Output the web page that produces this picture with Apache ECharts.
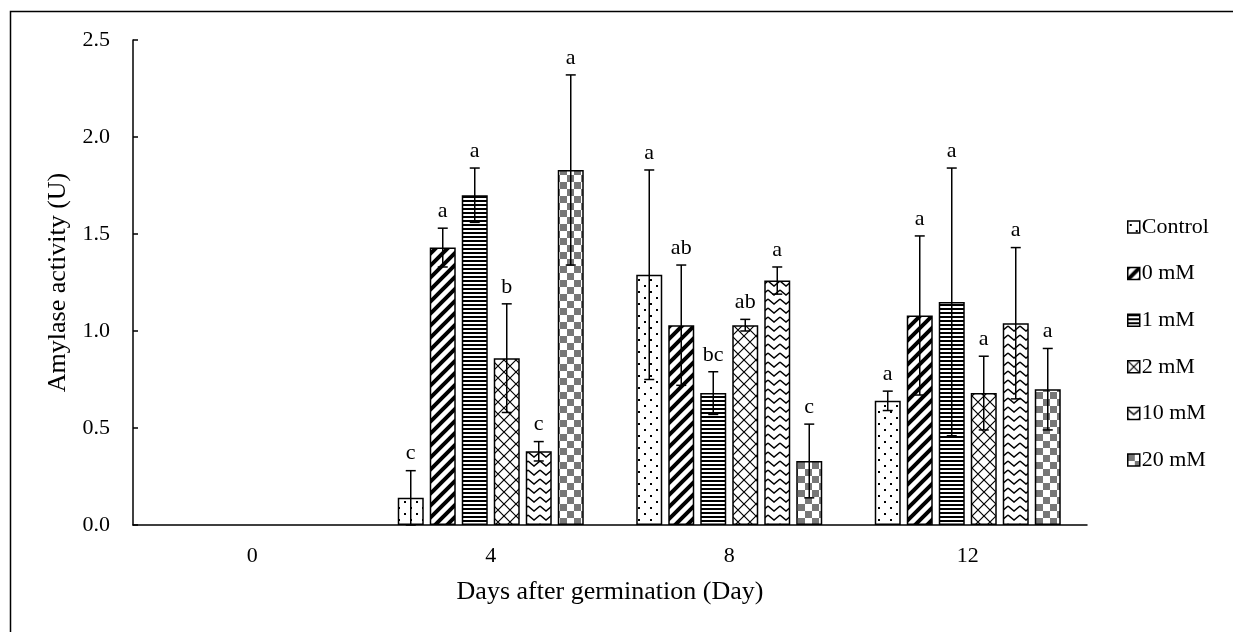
<!DOCTYPE html>
<html>
<head>
<meta charset="utf-8">
<script src="https://cdn.jsdelivr.net/npm/echarts@6/dist/echarts.min.js"></script>
<style>html,body{margin:0;padding:0;background:#fff}#main{width:1233px;height:632px}</style>
</head>
<body>
<div id="main"></div>
<script>
// ---- data ----
const categories = ['0', '4', '8', '12'];
const seriesNames = ['Control', '0 mM', '1 mM', '2 mM', '10 mM', '20 mM'];
const controlVals = [0, 0.14, 1.29, 0.64];
const mM0Vals     = [0, 1.43, 1.03, 1.08];
const mM1Vals     = [0, 1.70, 0.68, 1.15];
const mM2Vals     = [0, 0.86, 1.03, 0.68];
const mM10Vals    = [0, 0.38, 1.26, 1.04];
const mM20Vals    = [0, 1.83, 0.33, 0.70];
const controlErr = [0, 0.14, 0.54, 0.05];
const mM0Err     = [0, 0.10, 0.31, 0.41];
const mM1Err     = [0, 0.14, 0.11, 0.69];
const mM2Err     = [0, 0.28, 0.03, 0.19];
const mM10Err    = [0, 0.05, 0.07, 0.39];
const mM20Err    = [0, 0.49, 0.19, 0.21];
const controlLetters = ['', 'c', 'a', 'a'];
const mM0Letters     = ['', 'a', 'ab', 'a'];
const mM1Letters     = ['', 'a', 'bc', 'a'];
const mM2Letters     = ['', 'b', 'ab', 'a'];
const mM10Letters    = ['', 'c', 'a', 'a'];
const mM20Letters    = ['', 'a', 'c', 'a'];
const yTicks = [0, 0.5, 1.0, 1.5, 2.0, 2.5];

const allVals = [controlVals, mM0Vals, mM1Vals, mM2Vals, mM10Vals, mM20Vals];
const allErr = [controlErr, mM0Err, mM1Err, mM2Err, mM10Err, mM20Err];
const allLetters = [controlLetters, mM0Letters, mM1Letters, mM2Letters, mM10Letters, mM20Letters];

// ---- patterns ----
function makePattern(w, h, draw) {
  const c = document.createElement('canvas');
  c.width = w; c.height = h;
  const ctx = c.getContext('2d');
  ctx.fillStyle = '#fff';
  ctx.fillRect(0, 0, w, h);
  draw(ctx, w, h);
  return { image: c, repeat: 'repeat' };
}
const patterns = [
  makePattern(12, 12, (ctx) => { ctx.fillStyle = '#000'; ctx.fillRect(2, 3, 2, 2); ctx.fillRect(8, 9, 2, 2); }),
  makePattern(12, 12, (ctx, w, h) => {
    ctx.strokeStyle = '#000'; ctx.lineWidth = 4;
    ctx.beginPath();
    ctx.moveTo(-6, 18); ctx.lineTo(18, -6);
    ctx.moveTo(-6, 6); ctx.lineTo(6, -6);
    ctx.moveTo(6, 18); ctx.lineTo(18, 6);
    ctx.stroke();
  }),
  makePattern(4, 4, (ctx) => { ctx.fillStyle = '#000'; ctx.fillRect(0, 0, 4, 2); }),
  makePattern(12, 12, (ctx) => {
    ctx.strokeStyle = '#000'; ctx.lineWidth = 1.2;
    ctx.beginPath();
    ctx.moveTo(0, 0); ctx.lineTo(12, 12);
    ctx.moveTo(0, 12); ctx.lineTo(12, 0);
    ctx.stroke();
  }),
  makePattern(12, 9, (ctx) => {
    ctx.strokeStyle = '#000'; ctx.lineWidth = 1.5;
    ctx.beginPath();
    ctx.moveTo(0, 2); ctx.lineTo(6, 7); ctx.lineTo(12, 2);
    ctx.stroke();
  }),
  makePattern(14, 14, (ctx) => { ctx.fillStyle = '#777'; ctx.fillRect(0, 0, 7, 7); ctx.fillRect(7, 7, 7, 7); })
];

const FONT = 'Liberation Serif';
const BAR_W = 26, GAP = 6;

const series = [];
seriesNames.forEach((name, i) => {
  series.push({
    name: name,
    type: 'bar',
    data: allVals[i].map(v => v === 0 ? { value: v, itemStyle: { borderWidth: 0 } } : v),
    barWidth: BAR_W,
    barGap: (GAP / BAR_W * 100) + '%',
    itemStyle: { color: patterns[i], borderColor: '#000', borderWidth: 1.5 },
    emphasis: { disabled: true },
    animation: false
  });
});
seriesNames.forEach((name, i) => {
  const off = (i - 2.5) * (BAR_W + GAP);
  series.push({
    type: 'custom',
    data: allVals[i].map((v, k) => [k, v, allErr[i][k]]),
    encode: { x: 0, y: 1 },
    silent: true,
    animation: false,
    z: 5,
    renderItem: function (params, api) {
      const k = api.value(0), v = api.value(1), e = api.value(2);
      const letter = allLetters[i][params.dataIndex];
      if (!e && !letter) return null;
      const x = api.coord([k, v])[0] + off;
      const yTop = api.coord([k, v + e])[1];
      const yBot = api.coord([k, Math.max(v - e, 0)])[1];
      const st = { stroke: '#000', lineWidth: 1.5 };
      return {
        type: 'group',
        children: [
          { type: 'line', shape: { x1: x, y1: yBot, x2: x, y2: yTop }, style: st },
          { type: 'line', shape: { x1: x - 5, y1: yTop, x2: x + 5, y2: yTop }, style: st },
          { type: 'line', shape: { x1: x - 5, y1: yBot, x2: x + 5, y2: yBot }, style: st },
          { type: 'text', style: { text: letter, x: x, y: yTop - 6, textAlign: 'center', textVerticalAlign: 'bottom', fontFamily: FONT, fontSize: 22, fill: '#000' } }
        ]
      };
    }
  });
});

const chart = echarts.init(document.getElementById('main'), null, { renderer: 'canvas' });
chart.setOption({
  animation: false,
  backgroundColor: '#fff',
  textStyle: { fontFamily: FONT, color: '#000' },
  grid: { left: 133, right: 146, top: 40, bottom: 107, containLabel: false },
  legend: {
    data: seriesNames,
    orient: 'vertical',
    left: 1122,
    top: 210,
    itemWidth: 12,
    itemHeight: 12,
    itemGap: 22.6,
    icon: 'rect',
    itemStyle: { borderColor: '#000', borderWidth: 1.5 },
    textStyle: { fontFamily: FONT, fontSize: 22, color: '#000', lineHeight: 24, padding: [0, 0, 0, -3] },
    selectedMode: false
  },
  xAxis: {
    type: 'category',
    data: categories,
    name: 'Days after germination (Day)',
    nameLocation: 'middle',
    nameGap: 54,
    nameTextStyle: { fontFamily: FONT, fontSize: 26, color: '#000' },
    axisLine: { lineStyle: { color: '#000', width: 1.5 } },
    axisTick: { inside: true, length: 6, lineStyle: { color: '#000', width: 1.5 } },
    axisLabel: { fontFamily: FONT, fontSize: 22, color: '#000', margin: 20 },
    splitLine: { show: false }
  },
  yAxis: {
    type: 'value',
    min: yTicks[0],
    max: yTicks[yTicks.length - 1],
    interval: 0.5,
    name: 'Amylase activity (U)',
    nameLocation: 'middle',
    nameGap: 59,
    nameTextStyle: { fontFamily: FONT, fontSize: 26, color: '#000' },
    axisLine: { show: true, lineStyle: { color: '#000', width: 1.5 } },
    axisTick: { show: true, inside: true, length: 5, lineStyle: { color: '#000', width: 1.5 } },
    axisLabel: { fontFamily: FONT, fontSize: 22, color: '#000', margin: 23, formatter: (v) => v.toFixed(1) },
    splitLine: { show: false }
  },
  graphic: [{
    type: 'rect',
    shape: { x: 10.5, y: 11.5, width: 1240, height: 640 },
    style: { fill: 'none', stroke: '#000', lineWidth: 1.5 },
    silent: true,
    z: 100
  }],
  series: series
});
</script>
</body>
</html>
